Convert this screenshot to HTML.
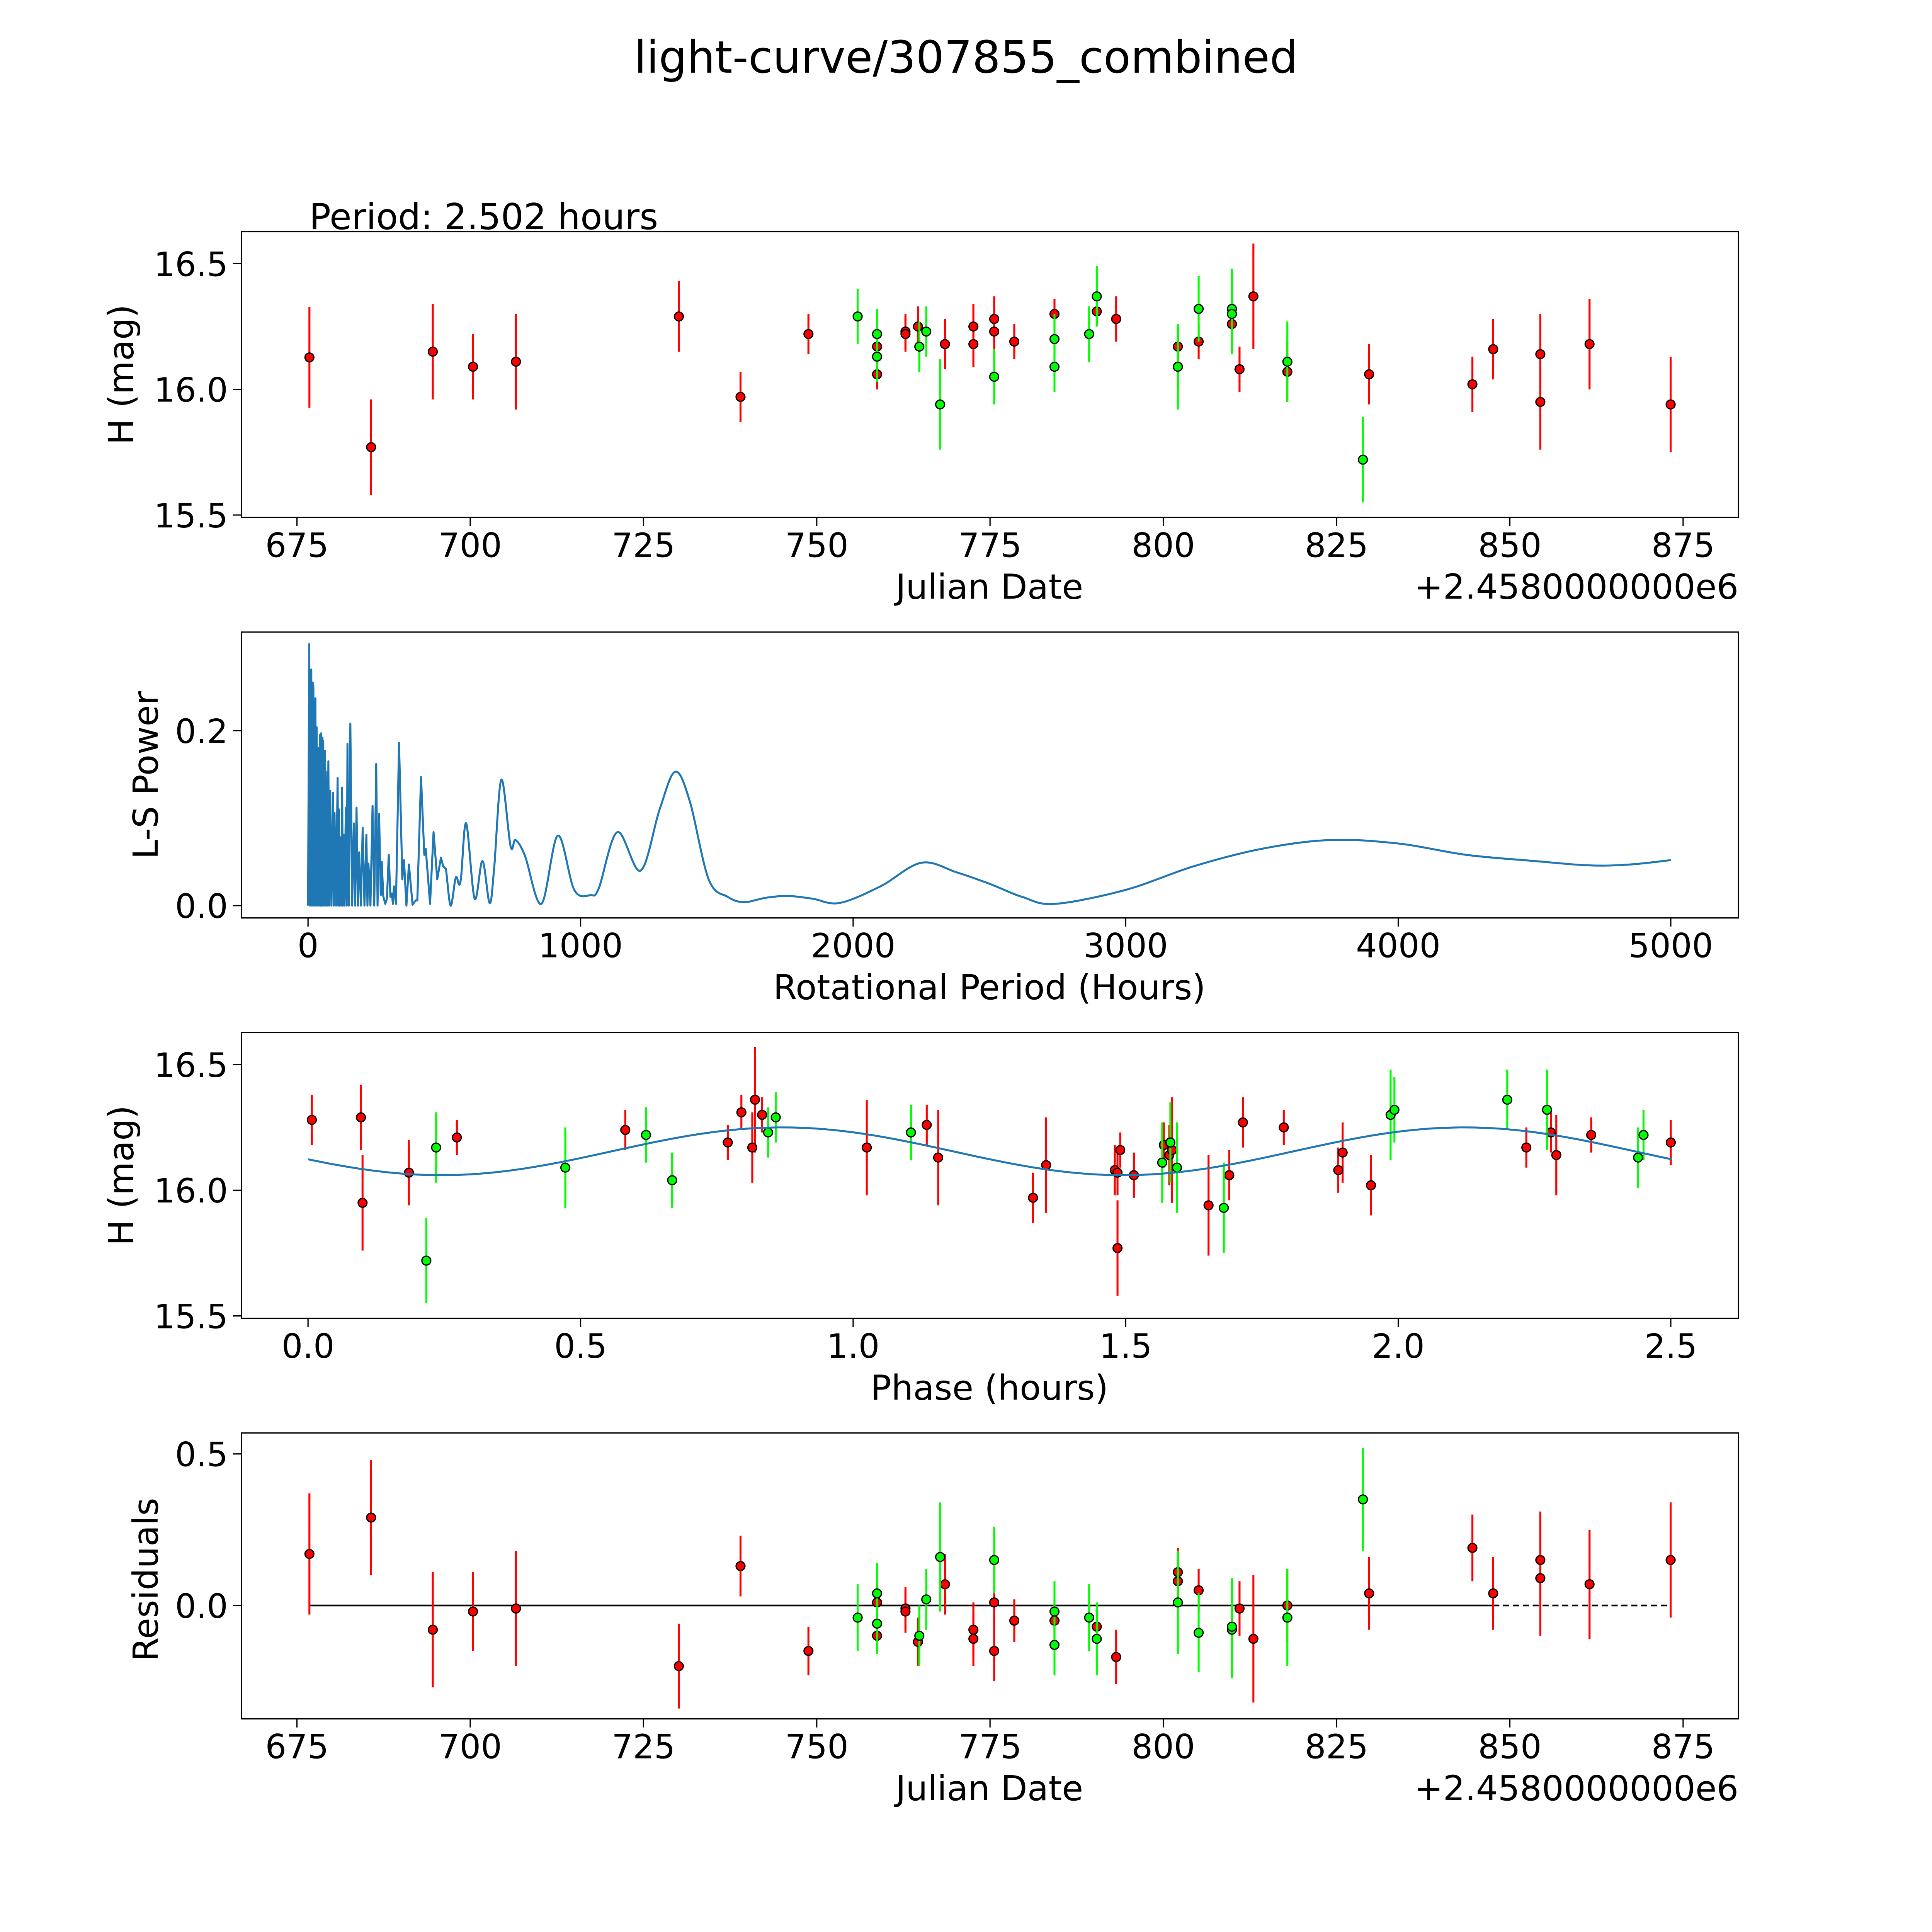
<!DOCTYPE html>
<html><head><meta charset="utf-8"><style>
html,body{margin:0;padding:0;background:#fff;width:100%;height:100%;overflow:hidden}
svg{display:block;position:absolute;left:0;top:0;width:100vw;height:100vh}
text{font-family:"DejaVu Sans","Liberation Sans",sans-serif;fill:#000}
</style></head><body>
<svg id="fig" xmlns="http://www.w3.org/2000/svg" viewBox="0 0 1568 1568" preserveAspectRatio="none">
<rect width="1568" height="1568" fill="#fff"/>
<text x="784" y="59" font-size="36" text-anchor="middle">light-curve/307855_combined</text>
<text x="251" y="186" font-size="29">Period: 2.502 hours</text>
</svg>
<script>
// ---- top light curve data ----
const redDates=[676.8,685.7,694.6,700.4,706.6,730.1,739.0,748.8,758.7,758.7,762.8,762.8,764.6,768.5,772.6,772.6,775.6,775.6,778.5,784.3,790.4,793.2,802.1,802.1,805.1,809.9,811.0,813.0,817.9,829.7,844.6,847.6,854.4,854.4,861.5,873.2];
const redMags=[16.127,15.77,16.15,16.09,16.11,16.29,15.97,16.22,16.17,16.06,16.23,16.22,16.25,16.18,16.25,16.18,16.28,16.23,16.19,16.30,16.31,16.28,16.17,16.09,16.19,16.26,16.08,16.37,16.07,16.06,16.02,16.16,16.14,15.95,16.18,15.94];
const redErrs=[0.2,0.19,0.19,0.13,0.19,0.14,0.1,0.08,0.07,0.06,0.07,0.07,0.08,0.1,0.09,0.09,0.09,0.1,0.07,0.06,0.06,0.09,0.08,0.09,0.07,0.07,0.09,0.21,0.12,0.12,0.11,0.12,0.16,0.19,0.18,0.19];
const redResid=[0.17,0.29,-0.08,-0.02,-0.01,-0.20,0.13,-0.15,0.01,-0.10,-0.01,-0.02,-0.12,0.07,-0.08,-0.11,0.01,-0.15,-0.05,-0.05,-0.07,-0.17,0.11,0.08,0.05,-0.07,-0.01,-0.11,0.0,0.04,0.19,0.04,0.15,0.09,0.07,0.15];
const greenDates=[755.9,758.7,758.7,764.8,765.8,767.8,775.6,784.3,784.3,789.3,790.4,802.1,805.1,809.9,809.9,817.9,828.8];
const greenMags=[16.29,16.22,16.13,16.17,16.23,15.94,16.05,16.20,16.09,16.22,16.37,16.09,16.32,16.32,16.30,16.11,15.72];
const greenErrs=[0.11,0.1,0.1,0.1,0.1,0.18,0.11,0.1,0.1,0.11,0.12,0.17,0.13,0.16,0.16,0.16,0.17];
const greenResid=[-0.04,0.04,-0.06,-0.10,0.02,0.16,0.15,-0.02,-0.13,-0.04,-0.11,0.01,-0.09,-0.08,-0.07,-0.04,0.35];
// ---- phase data ----
const redPhase=[0.007,0.097,0.10,0.185,0.273,0.582,0.77,0.795,0.815,0.82,0.833,1.025,1.135,1.156,1.33,1.354,1.48,1.485,1.485,1.49,1.515,1.57,1.58,1.585,1.652,1.69,1.715,1.79,1.89,1.898,1.95,2.235,2.28,2.29,2.354,2.50];
const redPhaseMag=[16.28,16.29,15.95,16.07,16.21,16.24,16.19,16.31,16.17,16.36,16.30,16.17,16.26,16.13,15.97,16.10,16.08,16.07,15.77,16.16,16.06,16.18,16.14,16.16,15.94,16.06,16.27,16.25,16.08,16.15,16.02,16.17,16.23,16.14,16.22,16.19];
const redPhaseErr=[0.1,0.13,0.19,0.13,0.07,0.08,0.07,0.07,0.14,0.21,0.07,0.19,0.08,0.19,0.1,0.19,0.1,0.09,0.19,0.07,0.09,0.09,0.12,0.21,0.2,0.1,0.1,0.07,0.09,0.12,0.12,0.08,0.08,0.16,0.07,0.09];
const greenPhase=[0.235,0.217,0.472,0.62,0.668,0.844,0.858,1.106,1.567,1.582,1.594,1.68,1.986,1.993,2.20,2.273,2.44,2.45];
const greenPhaseMag=[16.17,15.72,16.09,16.22,16.04,16.23,16.29,16.23,16.11,16.19,16.09,15.93,16.30,16.32,16.36,16.32,16.13,16.22];
const greenPhaseErr=[0.14,0.17,0.16,0.11,0.11,0.1,0.1,0.11,0.16,0.16,0.18,0.18,0.18,0.13,0.12,0.16,0.12,0.1];
const fitMean=16.155, fitAmp=0.095, fitPeak=0.87, fitHalfPeriod=1.251, periodHours=2.502;
// ---- periodogram ----
const periods=[0,4.5,7,12,14,17.3,18.5,19.6,22,27.1,29,31.7,34,37.7,40,43.7,46,48.2,50,52.8,54,55.8,59,62.6,66,70.8,72,74.6,78,81.4,86,92,95,97.2,103,108.5,111,113.8,116,119,122,125.1,128,130.4,134,138.7,142,144.7,150,155.3,162,168.1,173,177.9,183,187.7,194,200.5,207,214.1,218,221.6,229,236.7,243,250.2,255,260.8,266.8,270.6,275.9,283.4,289.4,296.2,302.2,307.5,311.3,315.1,322.6,333.9,346,352,361,370.1,383.6,395,401,414.5,426.6,431.9,447.7,460.5,474.1,487.6,495.9,505.7,523.1,541.9,554.7,562.3,580.4,611.3,639.9,666.3,682.9,709.2,743.1,761.3,795.9,856.2,916.5,976.8,1037,1067,1135,1220,1290,1347,1400,1470,1540,1600,1680,1760,1850,1950,2100,2250,2380,2500,2620,2740,3000,3250,3500,3750,4000,4250,4500,4700,4850,5000];
const powers=[0,0.299,0,0.270,0,0.255,0,0.251,0,0.237,0,0.204,0,0.180,0,0.195,0,0.197,0,0.192,0,0.188,0,0.177,0,0.153,0,0.165,0,0.131,0,0.129,0,0.106,0,0.146,0,0.110,0,0.078,0,0.135,0,0.081,0,0.112,0,0.185,0,0.208,0,0.094,0,0.112,0,0.061,0,0.089,0,0.081,0,0.048,0,0.114,0,0.162,0,0.105,0.012,0.050,0.011,0.002,0.008,0.058,0.010,0.014,0.002,0.022,0.002,0.186,0.030,0.052,0,0.047,0.001,0.006,0.006,0.147,0.058,0.065,0.002,0.084,0.030,0.055,0.045,0.042,0,0.032,0.024,0.035,0.094,0.008,0.051,0.003,0.043,0.144,0.068,0.075,0.057,0.002,0.080,0.018,0.012,0.020,0.084,0.040,0.110,0.153,0.120,0.030,0.010,0.004,0.009,0.011,0.008,0.003,0.022,0.049,0.038,0.025,0.010,0.002,0.018,0.045,0.065,0.075,0.071,0.058,0.051,0.046,0.047,0.052];

const NS="http://www.w3.org/2000/svg";
const fig=document.getElementById('fig');
function mk(tag,attrs,parent){const e=document.createElementNS(NS,tag);for(const k in attrs)e.setAttribute(k,attrs[k]);(parent||fig).appendChild(e);return e;}
function txt(s,attrs,parent){const e=mk('text',attrs,parent);e.textContent=s;return e;}
const L=196,R=1411;
const TICK_FS=27, LABEL_FS=28;
function lin(d0,d1,p0,p1){return v=>p0+(v-d0)*(p1-p0)/(d1-d0);}
function axesFrame(top,bot,name){const r=mk('rect',{x:L,y:top,width:R-L,height:bot-top,fill:'none',stroke:'#000','stroke-width':1});

}
function xTicks(vals,labels,xs,bot,name){vals.forEach((v,i)=>{const x=xs(v);mk('line',{x1:x,x2:x,y1:bot,y2:bot+7,stroke:'#000','stroke-width':1});
const t=txt(labels[i],{x:x,y:bot+32,'font-size':TICK_FS,'text-anchor':'middle'});

});}
function yTicks(vals,labels,ys,name){vals.forEach((v,i)=>{const y=ys(v);mk('line',{x1:L-7,x2:L,y1:y,y2:y,stroke:'#000','stroke-width':1});
const t=txt(labels[i],{x:L-11,y:y+10,'font-size':TICK_FS,'text-anchor':'end'});

});}
function ylabel(s,x,y,name){const t=txt(s,{x:x,y:y,'font-size':LABEL_FS,'text-anchor':'middle',transform:`rotate(-90 ${x} ${y})`});

}
function xlabel(s,y,name){const t=txt(s,{x:803,y:y,'font-size':LABEL_FS,'text-anchor':'middle'});

}
function points(xv,yv,ev,xs,ys,color,name){xv.forEach((d,i)=>{const x=xs(d);const e=ev[i]||0.1;
const l=mk('line',{x1:x,x2:x,y1:ys(yv[i]+e),y2:ys(yv[i]-e),stroke:color,'stroke-width':1.6});

});
xv.forEach((d,i)=>{const c=mk('circle',{cx:xs(d),cy:ys(yv[i]),r:3.6,fill:color,stroke:'#000','stroke-width':1});

});}
const dateTicks=[675,700,725,750,775,800,825,850,875];
const dateLabels=['675','700','725','750','775','800','825','850','875'];

// Panel 1
const x1=lin(675,875,241,1366), y1=lin(15.5,16.5,418,214);
axesFrame(188,420,'light-curve-axes');
xTicks(dateTicks,dateLabels,x1,420,'jd-x');
yTicks([15.5,16.0,16.5],['15.5','16.0','16.5'],y1,'mag-y');
xlabel('Julian Date',486,'jd-x-axis-title');
{const t=txt('+2.4580000000e6',{x:R,y:486,'font-size':LABEL_FS,'text-anchor':'end'});}
ylabel('H (mag)',108,304,'mag-y-axis-title');
points(redDates,redMags,redErrs,x1,y1,'#ff0000','red-observation');
points(greenDates,greenMags,greenErrs,x1,y1,'#00ff00','green-observation');

// Panel 2
const x2=lin(0,5000,250,1356), y2=lin(0,0.2,735,593);
axesFrame(513,745,'periodogram-axes');
xTicks([0,1000,2000,3000,4000,5000],['0','1000','2000','3000','4000','5000'],x2,745,'period-x');
yTicks([0,0.2],['0.0','0.2'],y2,'power-y');
xlabel('Rotational Period (Hours)',811,'period-x-axis-title');
ylabel('L-S Power',128,629,'power-y-axis-title');
{const px=periods.map(p=>x2(p)), py=powers.map(v=>y2(v));
let d='M'+px[0].toFixed(2)+' '+py[0].toFixed(2);
for(let i=0;i<px.length-1;i++){
 if(periods[i]>=500){const i0=Math.max(0,i-1),i3=Math.min(px.length-1,i+2);
  const c1x=px[i]+(px[i+1]-px[i0])/6,c1y=py[i]+(py[i+1]-py[i0])/6;
  const c2x=px[i+1]-(px[i3]-px[i])/6,c2y=py[i+1]-(py[i3]-py[i])/6;
  d+=`C${c1x.toFixed(2)} ${c1y.toFixed(2)} ${c2x.toFixed(2)} ${c2y.toFixed(2)} ${px[i+1].toFixed(2)} ${Math.min(py[i+1],735).toFixed(2)}`;
 } else d+='L'+px[i+1].toFixed(2)+' '+py[i+1].toFixed(2);}
const pl=mk('path',{d:d,fill:'none',stroke:'#1f77b4','stroke-width':1.6,'stroke-linejoin':'round'});

}

// Panel 3
const x3=lin(0,2.5,250,1356), y3=lin(15.5,16.5,1068,864);
axesFrame(838,1070,'phase-axes');
xTicks([0,0.5,1,1.5,2,2.5],['0.0','0.5','1.0','1.5','2.0','2.5'],x3,1070,'phase-x');
yTicks([15.5,16.0,16.5],['15.5','16.0','16.5'],y3,'phase-mag-y');
xlabel('Phase (hours)',1136,'phase-x-axis-title');
ylabel('H (mag)',108,954,'phase-mag-y-axis-title');
points(redPhase,redPhaseMag,redPhaseErr,x3,y3,'#ff0000','red-phase');
points(greenPhase,greenPhaseMag,greenPhaseErr,x3,y3,'#00ff00','green-phase');
{let d='';for(let i=0;i<=200;i++){const p=periodHours*i/200;const m=fitMean+fitAmp*Math.cos(2*Math.PI*(p-fitPeak)/fitHalfPeriod);d+=(i?'L':'M')+x3(p).toFixed(2)+' '+y3(m).toFixed(2);}
const fl=mk('path',{d:d,fill:'none',stroke:'#1f77b4','stroke-width':1.6});

}

// Panel 4
const x4=x1, y4=lin(0,0.5,1303,1180);
axesFrame(1163,1395,'residuals-axes');
xTicks(dateTicks,dateLabels,x4,1395,'resid-jd-x');
yTicks([0,0.5],['0.0','0.5'],y4,'resid-y');
xlabel('Julian Date',1461,'resid-jd-x-axis-title');
{const t=txt('+2.4580000000e6',{x:R,y:1461,'font-size':LABEL_FS,'text-anchor':'end'});}
ylabel('Residuals',128,1282,'resid-y-axis-title');
{const a=mk('line',{x1:x4(redDates[0]),x2:x4(847.6),y1:y4(0),y2:y4(0),stroke:'#000','stroke-width':1.4});


const b=mk('line',{x1:x4(847.6),x2:x4(873.2),y1:y4(0),y2:y4(0),stroke:'#000','stroke-width':1.4,'stroke-dasharray':'5 3'});

}
points(redDates,redResid,redErrs,x4,y4,'#ff0000','red-residual');
points(greenDates,greenResid,greenErrs,x4,y4,'#00ff00','green-residual');
</script>
</body></html>
